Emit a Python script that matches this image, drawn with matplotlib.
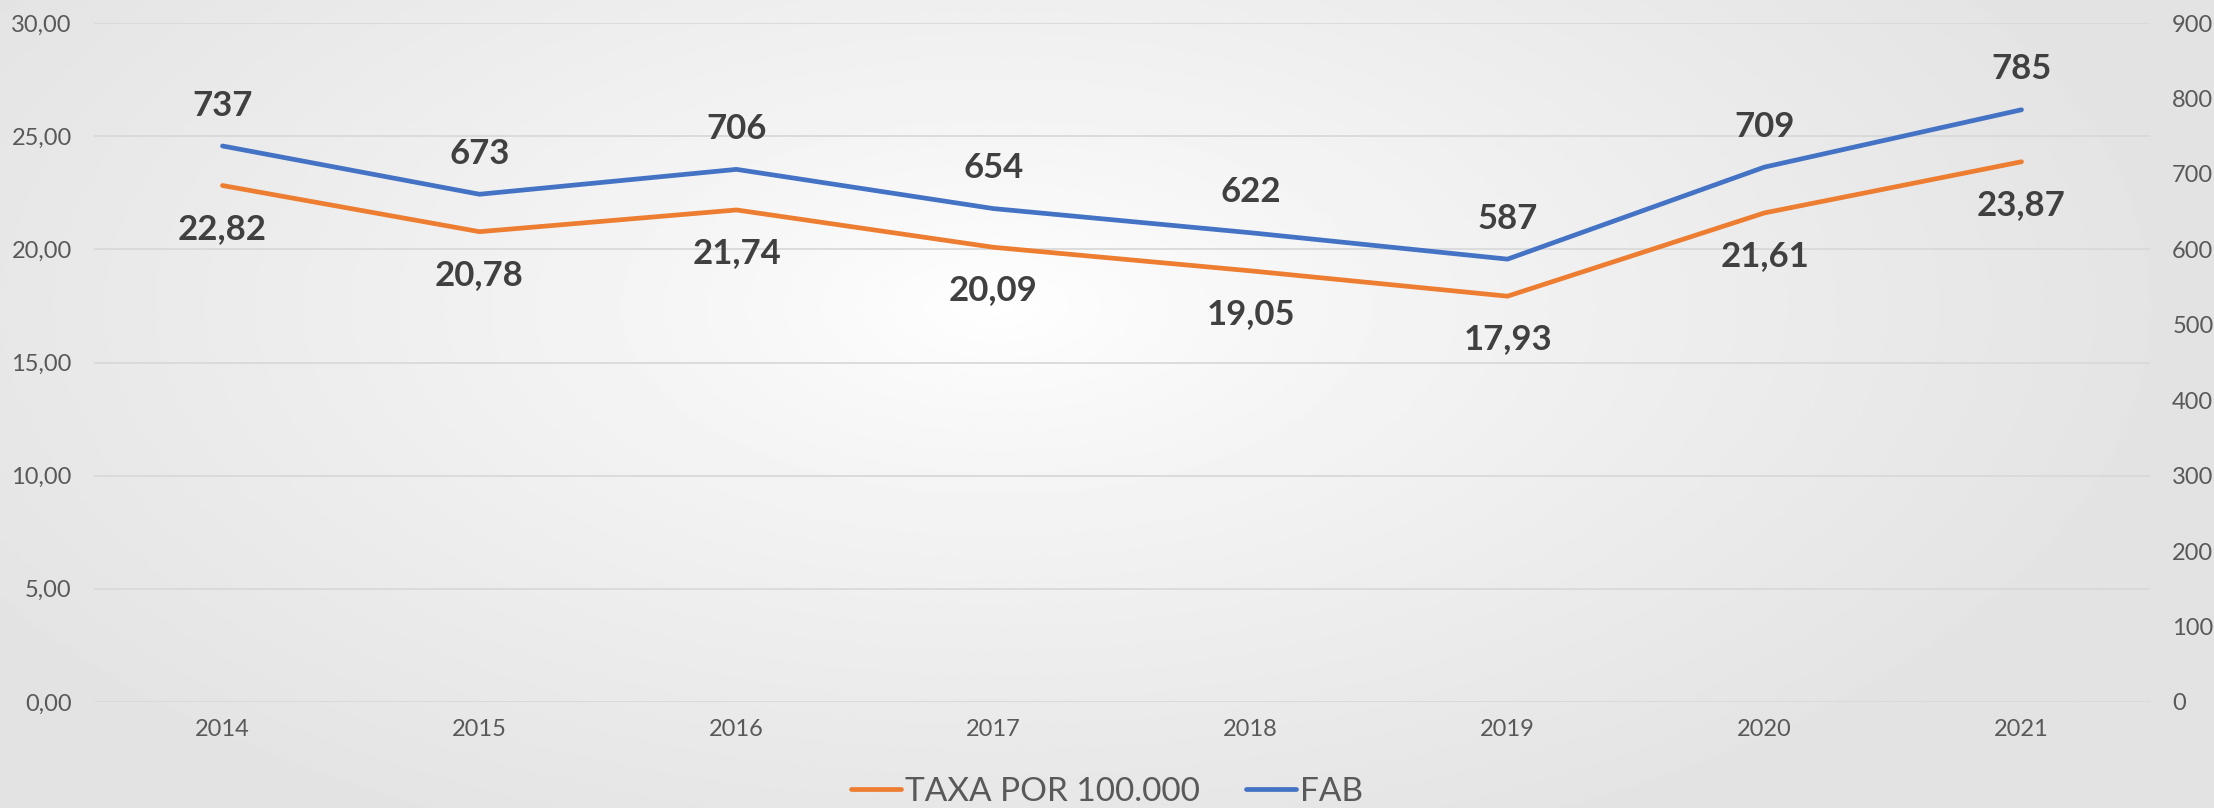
import numpy as np
import matplotlib
matplotlib.use("Agg")
import matplotlib.pyplot as plt

years = ["2014", "2015", "2016", "2017", "2018", "2019", "2020", "2021"]
taxa = [22.82, 20.78, 21.74, 20.09, 19.05, 17.93, 21.61, 23.87]
fab = [737, 673, 706, 654, 622, 587, 709, 785]

orange = "#ED7D31"
blue = "#4472C4"
tick_color = "#595959"
label_color = "#404040"

plt.rcParams["font.family"] = ["Lato", "DejaVu Sans"]

fig = plt.figure(figsize=(22.14, 8.08), dpi=100)

# radial gradient background
bg = fig.add_axes([0, 0, 1, 1], zorder=-10)
xx, yy = np.meshgrid(np.linspace(0, 1, 600), np.linspace(0, 1, 300))
r = np.sqrt(((xx - 0.45) / 0.55) ** 2 + ((yy - 0.62) / 0.75) ** 2)
r = np.clip(r, 0, 1)
shade = 1.0 - (1.0 - 0.89) * r ** 0.8
bg.imshow(shade, cmap="gray", vmin=0, vmax=1, aspect="auto", extent=[0, 1, 0, 1],
          origin="lower", interpolation="bilinear")
bg.axis("off")

ax = fig.add_axes([94 / 2214, 1 - 702 / 808, (2150 - 94) / 2214, (702 - 23) / 808])
ax.patch.set_alpha(0)
ax2 = ax.twinx()

x = np.arange(len(years))
ln1, = ax.plot(x, taxa, color=orange, lw=3.4, solid_capstyle="round", label="TAXA POR 100.000")
ln2, = ax2.plot(x, fab, color=blue, lw=3.4, solid_capstyle="round", label="FAB")

ax.set_xlim(-0.5, len(years) - 0.5)
ax.set_ylim(0, 30)
ax2.set_ylim(0, 900)
ax.set_yticks(np.arange(0, 31, 5))
ax.set_yticklabels([f"{v:.2f}".replace(".", ",") for v in np.arange(0, 31, 5)])
ax2.set_yticks(np.arange(0, 901, 100))
ax.set_xticks(x)
ax.set_xticklabels(years)

ax.grid(axis="y", color="#d9d9d9", lw=1.3)
ax.set_axisbelow(True)
for a in (ax, ax2):
    for s in a.spines.values():
        s.set_visible(False)
    a.tick_params(length=0, labelsize=17, colors=tick_color)
ax.tick_params(axis="y", pad=16)
ax2.tick_params(axis="y", pad=16)
ax.tick_params(axis="x", pad=12)

for xi, v in zip(x, taxa):
    ax.annotate(f"{v:.2f}".replace(".", ","), (xi, v), xytext=(0, -31), textcoords="offset points",
                ha="center", va="center", fontsize=25, fontweight="bold", color=label_color)
for xi, v in zip(x, fab):
    ax2.annotate(str(v), (xi, v), xytext=(0, 29), textcoords="offset points",
                 ha="center", va="center", fontsize=25, fontweight="bold", color=label_color)

fig.legend(handles=[ln1, ln2], loc="center", bbox_to_anchor=(0.5, 1 - 792 / 808), ncol=2,
           frameon=False, fontsize=24, labelcolor=tick_color, handlelength=1.5,
           handletextpad=0.1, columnspacing=1.4)

fig.savefig("out.png", dpi=100)
